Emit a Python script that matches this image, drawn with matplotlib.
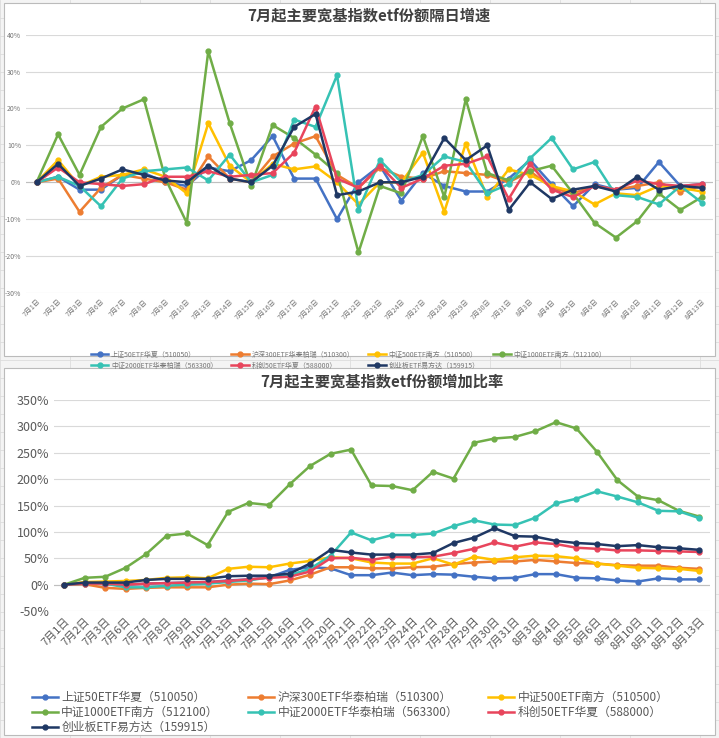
import matplotlib
matplotlib.use("Agg")
import matplotlib.pyplot as plt
from matplotlib.patches import Rectangle

plt.rcParams['font.family'] = ['Noto Sans CJK SC', 'DejaVu Sans']

DATES = ["7月1日", "7月2日", "7月3日", "7月6日", "7月7日", "7月8日", "7月9日", "7月10日",
         "7月13日", "7月14日", "7月15日", "7月16日", "7月17日", "7月20日", "7月21日", "7月22日",
         "7月23日", "7月24日", "7月27日", "7月28日", "7月29日", "7月30日", "7月31日", "8月3日",
         "8月4日", "8月5日", "8月6日", "8月7日", "8月10日", "8月11日", "8月12日", "8月13日"]

NAMES = ["上证50ETF华夏（510050）", "沪深300ETF华泰柏瑞（510300）", "中证500ETF南方（510500）",
         "中证1000ETF南方（512100）", "中证2000ETF华泰柏瑞（563300）", "科创50ETF华夏（588000）",
         "创业板ETF易方达（159915）"]
COLORS = ["#4472C4", "#ED7D31", "#FFC000", "#70AD47", "#36C2B4", "#E8455C", "#1F3864"]

# daily growth (%)
daily_sz50 = [0, 1.5, -2, -2, 2, 2.5, 0, -1, 4, 3, 6, 12.5, 1, 1, -10, 0, 4.5, -5, 2.5, -1,
              -2.5, -2.5, 1, 6, -0.5, -6.5, -0.5, -2, -1.5, 5.5, -1, -0.5]
daily_hs300 = [0, 1, -8, -1.5, 2, 1, 0, -2, 7, 1, 0, 7, 10.5, 12.5, 2, -1.5, 4, 1.5, 1, 3,
               2.5, 2, 0, 3, -1.5, -3, -1, -2, -1, 0, -2.5, -1]
daily_zz500 = [0, 6, -1, 1.5, 2, 3.5, 1.5, -3, 16, 4.5, 0, 5, 3.5, 4.3, 0, -6, 0, 0, 8, -8,
               10.5, -4, 3.5, 2, -1, -2.5, -6, -3, -3.5, -1, -1.5, -2.5]
daily_zz1000 = [0, 13, 2, 15, 20, 22.5, 1, -11, 35.5, 16, -1, 15.5, 12, 7.5, 2.5, -19, -1, -3,
                12.5, -4, 22.5, 2.5, 0.5, 3, 4.5, -3, -11, -15, -10.5, -3, -7.5, -4]
daily_zz2000 = [0, 1.5, -1, -6.5, 1, 3, 3.5, 4, 0.5, 7.5, 0, 2, 17, 15, 29, -7.5, 6, 0, 2, 7,
                5.5, -3, -0.5, 6.5, 12, 3.5, 5.5, -3.5, -4, -6, -1, -5.5]
daily_kc50 = [0, 4, 0, -0.5, -1, -0.5, 1.5, 1.5, 3, 1.5, 2, 2.5, 8, 20.5, 1, -1.5, 4.5, -1.5,
              1, 4.5, 5, 7, -4.5, 5, -2, -4, -1, -2, 0.5, -0.5, -1, -0.5]
daily_cyb = [0, 5, -1, 1, 3.5, 2, 0.5, 0, 4.5, 1, 0, 4.5, 15, 18.5, -3.5, -2.5, 0, 0, 1.5, 12,
             6, 10, -7.5, 0, -4.5, -2, -1, -2.5, 1.5, -2, -1, -1.5]

# cumulative growth since July 1 (%)
cum_sz50 = [0, 3, 2, 0, 2, 3, 4, 5, 8, 10, 14, 28, 33, 31, 18, 18, 23, 18, 20, 19, 15, 12, 13,
            20, 20, 13, 12, 8, 6, 12, 10, 10]
cum_hs300 = [0, 1, -6, -8, -6, -5, -5, -5, 0, 2, 1, 8, 19, 33, 33, 31, 31, 33, 34, 39, 42, 44,
             44, 47, 44, 41, 40, 37, 36, 36, 32, 30]
cum_zz500 = [0, 5, 6, 7, 9, 13, 14, 12, 30, 34, 33, 40, 45, 52, 50, 42, 40, 40, 50, 38, 53, 47,
             52, 55, 54, 50, 40, 36, 32, 31, 30, 26]
cum_zz1000 = [0, 13, 15, 32, 58, 93, 97, 75, 138, 155, 151, 190, 225, 248, 256, 188, 187, 179,
              214, 201, 269, 277, 280, 291, 308, 296, 252, 198, 167, 160, 140, 129]
cum_zz2000 = [0, 2, 2, -5, -5, -2, 0, 2, 5, 8, 14, 18, 30, 55, 99, 84, 94, 94, 97, 111, 122,
              114, 113, 127, 154, 163, 177, 167, 156, 140, 139, 126]
cum_kc50 = [0, 2, 2, 0, 2, 3, 4, 5, 7, 10, 13, 15, 25, 50, 51, 47, 53, 52, 53, 60, 68, 80, 72,
            80, 77, 70, 68, 65, 65, 64, 63, 62]
cum_cyb = [0, 4, 4, 4, 9, 11, 11, 11, 16, 17, 17, 21, 40, 66, 61, 57, 57, 57, 60, 79, 89, 107,
           92, 91, 83, 79, 77, 73, 75, 71, 69, 66]

daily = [daily_sz50, daily_hs300, daily_zz500, daily_zz1000, daily_zz2000, daily_kc50, daily_cyb]
cum = [cum_sz50, cum_hs300, cum_zz500, cum_zz1000, cum_zz2000, cum_kc50, cum_cyb]

W, H = 719, 738
fig = plt.figure(figsize=(W / 100, H / 100), dpi=100)
fig.patch.set_facecolor("#f4f4f4")
# spreadsheet grid behind
for gx in range(0, W, 70):
    fig.add_artist(plt.Line2D([gx / W, gx / W], [0, 1], color="#dddddd", lw=0.6, zorder=0))
for gy in range(0, H, 18):
    fig.add_artist(plt.Line2D([0, 1], [gy / H, gy / H], color="#dddddd", lw=0.6, zorder=0))
for (x0, y0, x1, y1) in [(4, 3, 715, 356), (4, 368, 715, 735)]:
    fig.add_artist(Rectangle((x0 / W, 1 - y1 / H), (x1 - x0) / W, (y1 - y0) / H,
                             transform=fig.transFigure, facecolor="white",
                             edgecolor="#bbbbbb", lw=0.8, zorder=1))

x = list(range(len(DATES)))


def style(ax, fs, color):
    ax.set_facecolor("none")
    for s in ax.spines.values():
        s.set_visible(False)
    ax.grid(axis="y", color="#d9d9d9", lw=0.8)
    ax.set_axisbelow(True)
    ax.tick_params(length=0, labelsize=fs, colors=color)
    ax.set_xlim(-0.5, len(DATES) - 0.5)
    ax.set_xticks(x)
    ax.set_xticklabels(DATES, rotation=45, ha="right", rotation_mode="anchor")


def row_major(ax, order):
    h, l = ax.get_legend_handles_labels()
    return [h[i] for i in order], [l[i] for i in order]


# top chart
ax1 = fig.add_axes([0.036, 0.603, 0.955, 0.35], zorder=2)
style(ax1, 5, "#777777")
ax1.set_ylim(-30, 40)
ax1.set_yticks(range(-30, 41, 10))
ax1.set_yticklabels([f"{v}%" for v in range(-30, 41, 10)])
ax1.axhline(0, color="#bfbfbf", lw=0.8)
for vals, name, c in zip(daily, NAMES, COLORS):
    ax1.plot(x, vals, color=c, lw=1.8, marker="o", ms=3.5, label=name)
ax1.set_title("7月起主要宽基指数etf份额隔日增速", fontsize=11, fontweight="bold",
              color="#404040", pad=10)
h1, l1 = row_major(ax1, [0, 4, 1, 5, 2, 6, 3])
ax1.legend(h1, l1, loc="upper center", bbox_to_anchor=(0.47, -0.2), ncol=4, frameon=False,
           fontsize=5, labelcolor="#777777", handlelength=2.5, columnspacing=2,
           handletextpad=0.4, labelspacing=0.4)

# bottom chart
ax2 = fig.add_axes([0.075, 0.172, 0.912, 0.286], zorder=2)
style(ax2, 8, "#595959")
ax2.tick_params(axis="y", labelsize=9)
ax2.set_ylim(-50, 350)
ax2.set_yticks(range(-50, 351, 50))
ax2.set_yticklabels([f"{v}%" for v in range(-50, 351, 50)])
ax2.axhline(0, color="#bfbfbf", lw=0.8)
for vals, name, c in zip(cum, NAMES, COLORS):
    ax2.plot(x, vals, color=c, lw=1.8, marker="o", ms=3.5, label=name)
ax2.set_title("7月起主要宽基指数etf份额增加比率", fontsize=11, fontweight="bold",
              color="#404040", pad=10)
h2, l2 = row_major(ax2, [0, 3, 6, 1, 4, 2, 5])
ax2.legend(h2, l2, loc="upper left", bbox_to_anchor=(-0.05, -0.33), ncol=3, frameon=False,
           fontsize=8.5, labelcolor="#595959", handlelength=2.2, columnspacing=2.5,
           handletextpad=0.3, labelspacing=0.15)

fig.savefig("out.png", dpi=100)
